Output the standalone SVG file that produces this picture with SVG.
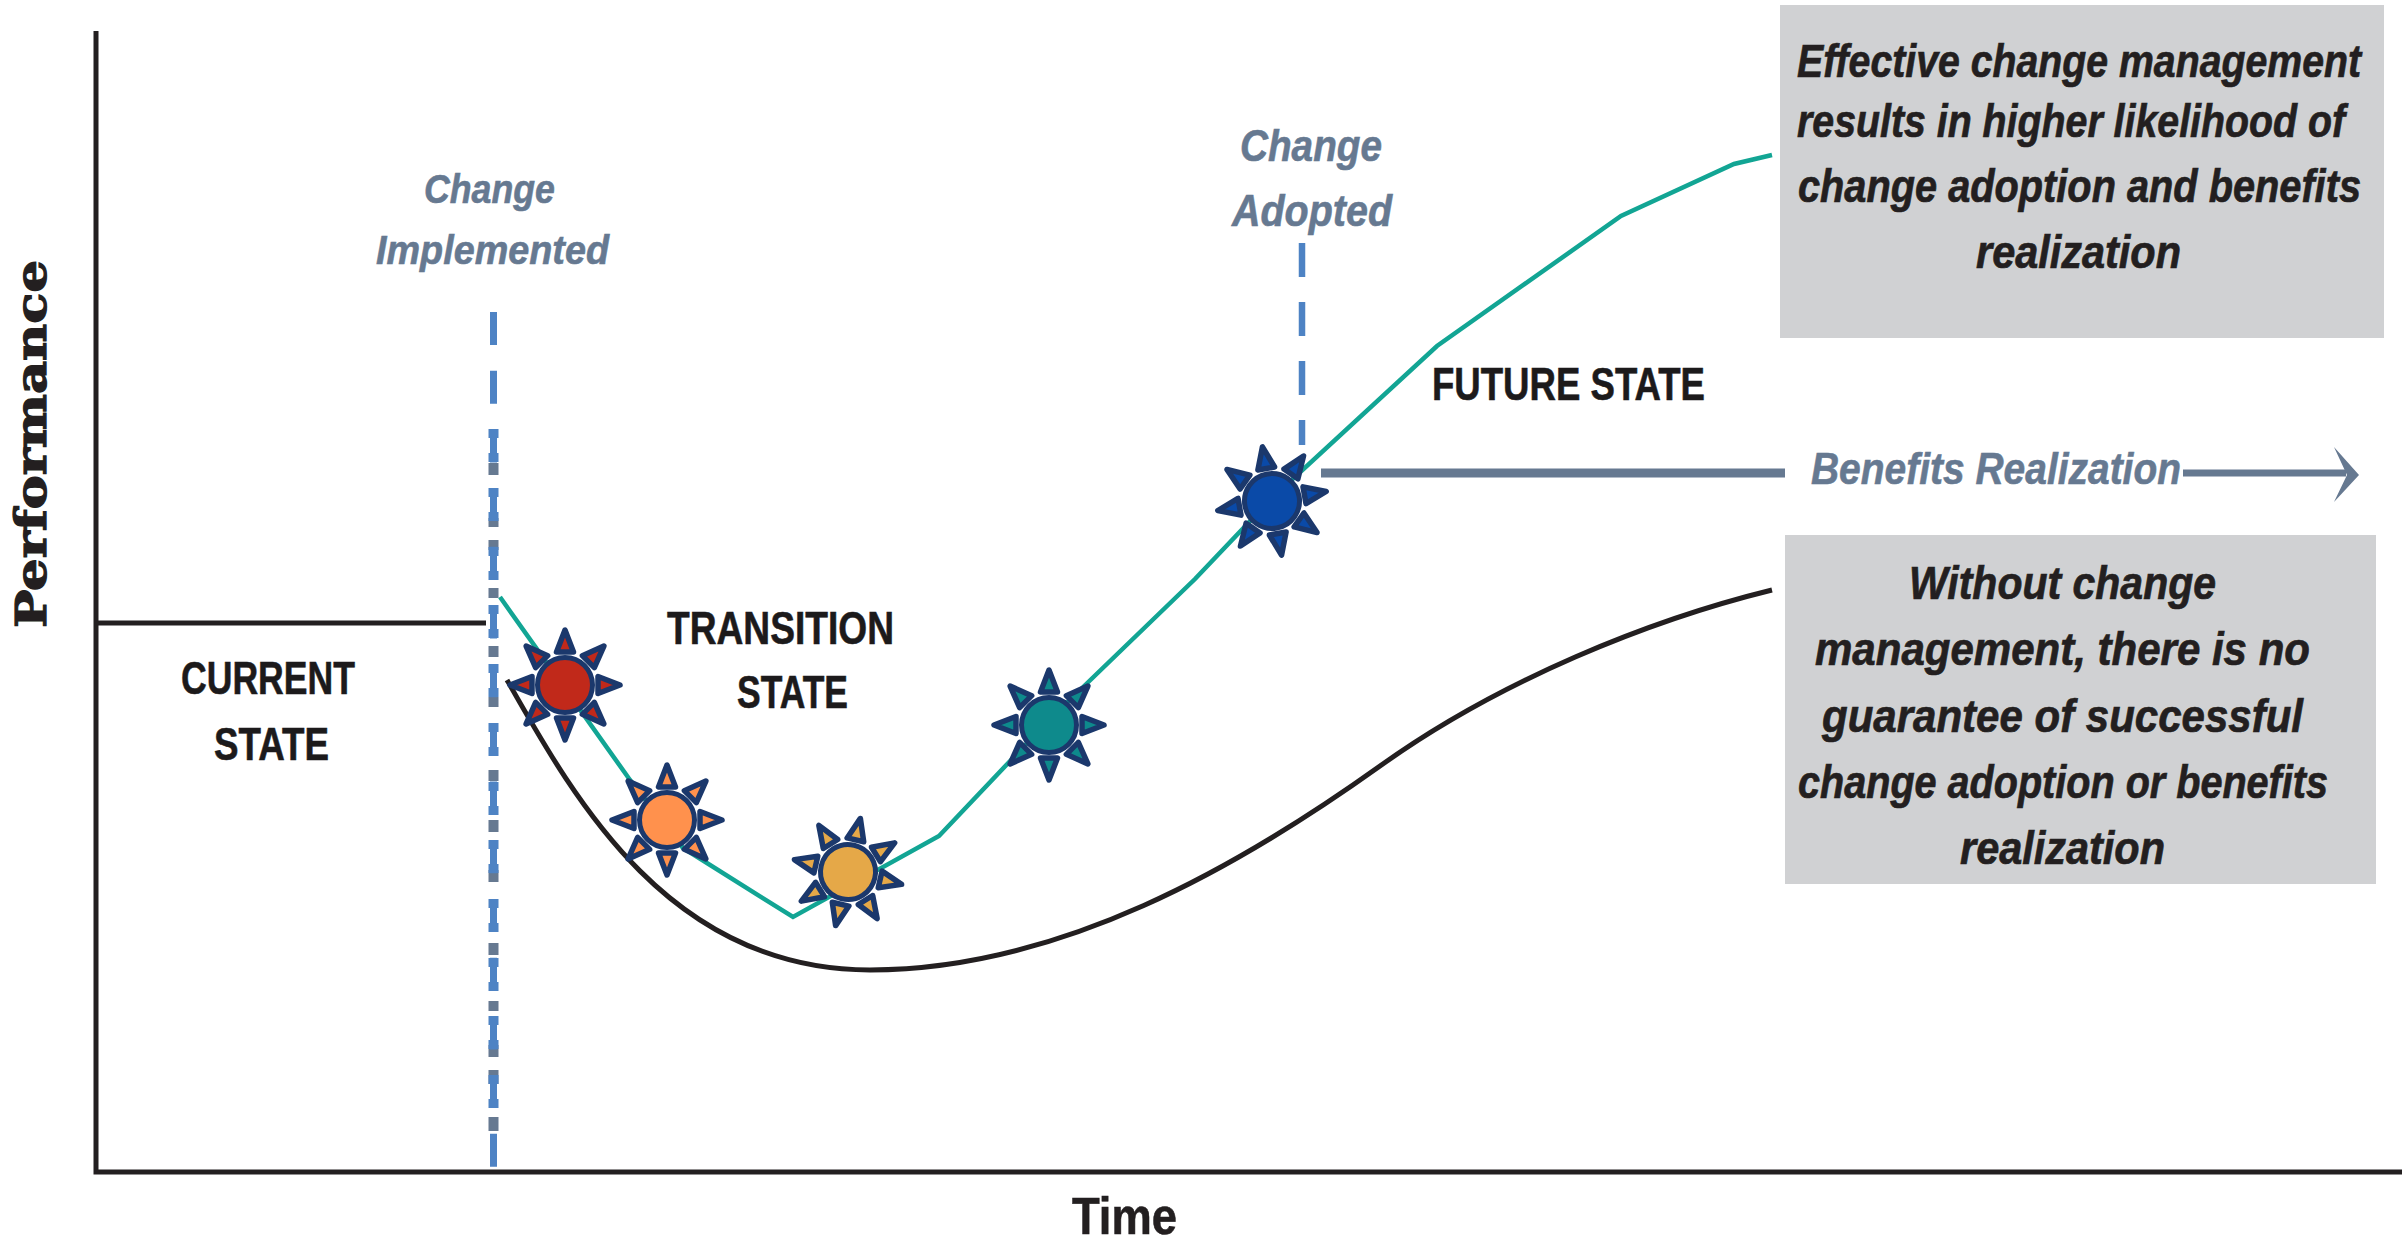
<svg xmlns="http://www.w3.org/2000/svg" width="2402" height="1241" viewBox="0 0 2402 1241">
<style>
text{font-family:"Liberation Sans Narrow","Liberation Sans",Arial,sans-serif;font-weight:700}
.note{font-family:"Liberation Sans",Arial,sans-serif;font-style:italic;fill:#231f20;font-size:47px;stroke:#231f20;stroke-width:.7}
.slate{font-style:italic;fill:#667991;stroke:#667991;stroke-width:.6}
.state{fill:#1c1a1b;font-size:47px;stroke:#1c1a1b;stroke-width:.6}
.box{fill:#d0d1d3}
.ln{fill:none;stroke-linecap:butt}
.tri{stroke:#1b386c;stroke-width:5.5;stroke-linejoin:round}
.disc{stroke:#1b386c;stroke-width:5}
</style>
<defs>
<g id="sun">
<g id="rays">
<path id="ray" class="tri" d="M-8.5 -33H8.5L0 -55Z"/>
<use href="#ray" transform="rotate(45)"/><use href="#ray" transform="rotate(90)"/><use href="#ray" transform="rotate(135)"/>
<use href="#ray" transform="rotate(180)"/><use href="#ray" transform="rotate(225)"/><use href="#ray" transform="rotate(270)"/><use href="#ray" transform="rotate(315)"/>
</g>
<circle class="disc" r="27.5"/>
</g>
</defs>
<rect width="2402" height="1241" fill="#fff"/>
<g id="connectors">
<path id="axes" class="ln" d="M96 31V1172H2402" stroke="#231f20" stroke-width="5"/>
<path id="current-line" class="ln" d="M96 623H486" stroke="#231f20" stroke-width="5"/>
<path id="no-cm-curve" class="ln" d="M507 680C575 800 670 970 870 970C1060 970 1240 866 1380 766C1500 680 1650 620 1772 590" stroke="#231f20" stroke-width="5"/>
<path id="cm-curve" class="ln" d="M500 597L630 780L683 848L793 917L939 836L1049 720L1195 579L1272 498L1437 346L1621 216L1734 164L1772 155" stroke="#12a594" stroke-width="4.5"/>
<path id="grey-dash" class="ln" d="M493.5 463v12M493.5 518v9M493.5 540v10M493.5 588v10M493.5 646v11M493.5 697v10M493.5 770v11M493.5 820v12M493.5 870v12M493.5 943v12M493.5 1001v10M493.5 1045v12M493.5 1070v14M493.5 1117v14" stroke="#667991" stroke-width="10"/>
<path id="implemented-dash" class="ln" d="M493.5 312V1172" stroke="#4e83c4" stroke-width="7" stroke-dasharray="33 25.7"/>
<path id="implemented-swell" class="ln" d="M493.5 429v9M493.5 453v9M493.5 488v9M493.5 512v9M493.5 547v9M493.5 571v9M493.5 605v9M493.5 629v9M493.5 664v9M493.5 688v9M493.5 723v9M493.5 747v9M493.5 782v9M493.5 806v9M493.5 840v9M493.5 864v9M493.5 899v9M493.5 923v9M493.5 958v9M493.5 982v9M493.5 1016v9M493.5 1040v9M493.5 1075v9M493.5 1099v9" stroke="#4e83c4" stroke-width="10"/>
<path id="adopted-dash" class="ln" d="M1302 243V445" stroke="#4e83c4" stroke-width="6.5" stroke-dasharray="34 25"/>
<path id="benefits-left" class="ln" d="M1321 473H1785" stroke="#667991" stroke-width="9"/>
<path id="benefits-right" class="ln" d="M2183 473H2346" stroke="#667991" stroke-width="7"/>
<path id="benefits-head" d="M2334 447L2359 475L2334 502L2347 475Z" fill="#667991"/>
</g>
<g id="sun-red"><use href="#sun" x="565" y="685" fill="#c1291a"/></g>
<g id="sun-orange"><use href="#sun" x="667" y="820" fill="#ff914d"/></g>
<g id="sun-gold"><use href="#sun" transform="translate(848 872) rotate(13)" fill="#e5a848"/></g>
<g id="sun-teal"><use href="#sun" x="1049" y="725" fill="#0e8a8c"/></g>
<g id="sun-blue"><use href="#sun" transform="translate(1272 501) rotate(-10)" fill="#0a4aa8"/></g>
<g id="label-change-implemented">
<text class="slate" font-size="41" x="424" y="203" textLength="131" lengthAdjust="spacingAndGlyphs">Change</text>
<text class="slate" font-size="41" x="376" y="264" textLength="233" lengthAdjust="spacingAndGlyphs">Implemented</text>
</g>
<g id="label-change-adopted">
<text class="slate" font-size="45" x="1240" y="161" textLength="142" lengthAdjust="spacingAndGlyphs">Change</text>
<text class="slate" font-size="45" x="1232" y="226" textLength="160" lengthAdjust="spacingAndGlyphs">Adopted</text>
</g>
<g id="label-current">
<text class="state" x="181" y="694" textLength="174" lengthAdjust="spacingAndGlyphs">CURRENT</text>
<text class="state" x="214" y="760" textLength="115" lengthAdjust="spacingAndGlyphs">STATE</text>
</g>
<g id="label-transition">
<text class="state" x="667" y="644" textLength="227" lengthAdjust="spacingAndGlyphs">TRANSITION</text>
<text class="state" x="737" y="708" textLength="111" lengthAdjust="spacingAndGlyphs">STATE</text>
</g>
<g id="label-future">
<text class="state" x="1432" y="400" textLength="273" lengthAdjust="spacingAndGlyphs">FUTURE STATE</text>
</g>
<g id="label-benefits">
<text class="slate" font-size="45" x="1811" y="484" textLength="370" lengthAdjust="spacingAndGlyphs">Benefits Realization</text>
</g>
<g id="box-effective">
<rect class="box" x="1780" y="5" width="604" height="333"/>
<text class="note" transform="translate(1797 77) scale(.8 1)" textLength="705" lengthAdjust="spacingAndGlyphs">Effective change management</text>
<text class="note" transform="translate(1797 137) scale(.8 1)" textLength="685" lengthAdjust="spacingAndGlyphs">results in higher likelihood of</text>
<text class="note" transform="translate(1798 202) scale(.8 1)" textLength="703.75" lengthAdjust="spacingAndGlyphs">change adoption and benefits</text>
<text class="note" transform="translate(1976 268) scale(.8 1)" textLength="256.25" lengthAdjust="spacingAndGlyphs">realization</text>
</g>
<g id="box-without">
<rect class="box" x="1785" y="535" width="591" height="349"/>
<text class="note" transform="translate(1909 599) scale(.8 1)" textLength="383.75" lengthAdjust="spacingAndGlyphs">Without change</text>
<text class="note" transform="translate(1815 665) scale(.8 1)" textLength="618.75" lengthAdjust="spacingAndGlyphs">management, there is no</text>
<text class="note" transform="translate(1822 732) scale(.8 1)" textLength="601.25" lengthAdjust="spacingAndGlyphs">guarantee of successful</text>
<text class="note" transform="translate(1798 798) scale(.8 1)" textLength="662.5" lengthAdjust="spacingAndGlyphs">change adoption or benefits</text>
<text class="note" transform="translate(1960 864) scale(.8 1)" textLength="256.25" lengthAdjust="spacingAndGlyphs">realization</text>
</g>
<g id="axis-labels">
<text x="1072" y="1234" font-size="52" fill="#231f20" stroke="#231f20" stroke-width=".6" textLength="105" lengthAdjust="spacingAndGlyphs">Time</text>
<text transform="translate(46 628) rotate(-90)" font-size="42" fill="#231f20" stroke="#231f20" stroke-width="1.2" style="font-family:'DejaVu Serif',serif" textLength="368" lengthAdjust="spacingAndGlyphs">Performance</text>
</g>
</svg>
